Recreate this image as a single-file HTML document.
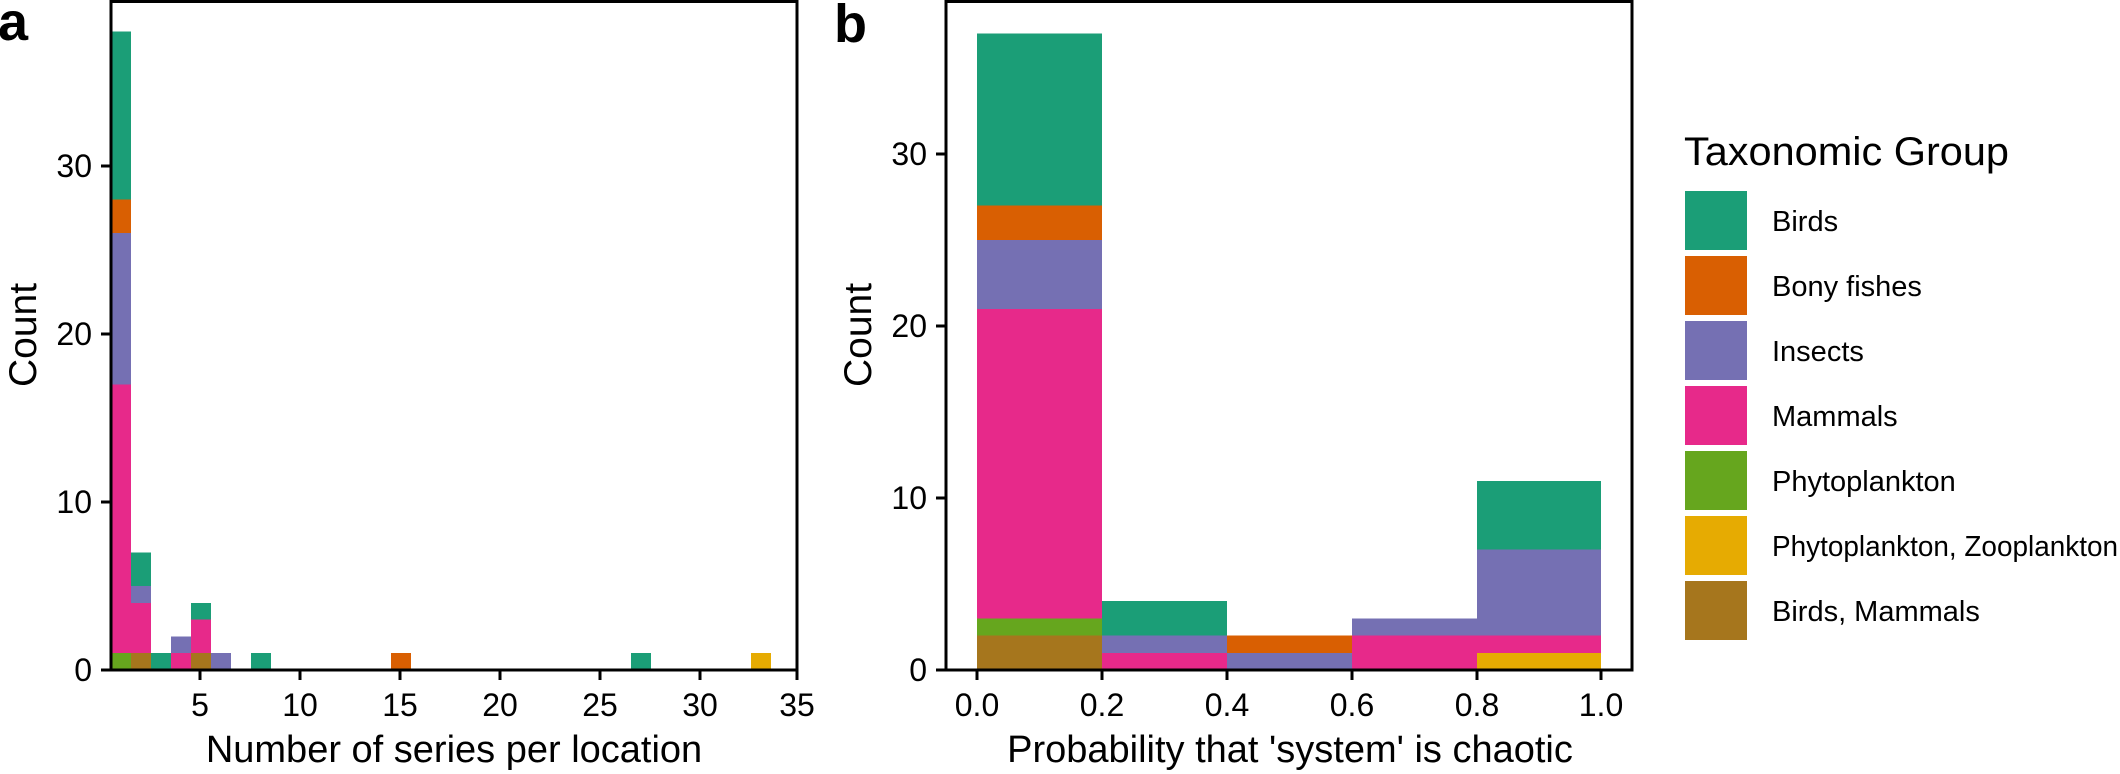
<!DOCTYPE html>
<html><head><meta charset="utf-8"><style>
html,body{margin:0;padding:0;background:#fff;}
svg{display:block;font-family:"Liberation Sans",Arial,sans-serif;}
</style></head><body>
<svg width="2120" height="774" viewBox="0 0 2120 774" xmlns="http://www.w3.org/2000/svg">
<rect width="2120" height="774" fill="#fff"/>
<g shape-rendering="crispEdges">
<rect x="112" y="653.2" width="19" height="16.8" fill="#66A61E"/>
<rect x="112" y="384.4" width="19" height="268.8" fill="#E7298A"/>
<rect x="112" y="233.2" width="19" height="151.2" fill="#7570B3"/>
<rect x="112" y="199.6" width="19" height="33.6" fill="#D95F02"/>
<rect x="112" y="31.6" width="19" height="168" fill="#1B9E77"/>
<rect x="131" y="653.2" width="20" height="16.8" fill="#A6761D"/>
<rect x="131" y="602.8" width="20" height="50.4" fill="#E7298A"/>
<rect x="131" y="586" width="20" height="16.8" fill="#7570B3"/>
<rect x="131" y="552.4" width="20" height="33.6" fill="#1B9E77"/>
<rect x="151" y="653.2" width="20" height="16.8" fill="#1B9E77"/>
<rect x="171" y="653.2" width="20" height="16.8" fill="#E7298A"/>
<rect x="171" y="636.4" width="20" height="16.8" fill="#7570B3"/>
<rect x="191" y="653.2" width="20" height="16.8" fill="#A6761D"/>
<rect x="191" y="619.6" width="20" height="33.6" fill="#E7298A"/>
<rect x="191" y="602.8" width="20" height="16.8" fill="#1B9E77"/>
<rect x="211" y="653.2" width="20" height="16.8" fill="#7570B3"/>
<rect x="251" y="653.2" width="20" height="16.8" fill="#1B9E77"/>
<rect x="391" y="653.2" width="20" height="16.8" fill="#D95F02"/>
<rect x="631" y="653.2" width="20" height="16.8" fill="#1B9E77"/>
<rect x="751" y="653.2" width="20" height="16.8" fill="#E6AB02"/>
</g>
<rect x="111" y="1.5" width="686" height="668.5" fill="none" stroke="#000" stroke-width="3"/>
<g stroke="#000" stroke-width="3">
<line x1="101" y1="670" x2="111" y2="670"/>
<line x1="101" y1="502" x2="111" y2="502"/>
<line x1="101" y1="334" x2="111" y2="334"/>
<line x1="101" y1="166" x2="111" y2="166"/>
<line x1="200" y1="670" x2="200" y2="680"/>
<line x1="300" y1="670" x2="300" y2="680"/>
<line x1="400" y1="670" x2="400" y2="680"/>
<line x1="500" y1="670" x2="500" y2="680"/>
<line x1="600" y1="670" x2="600" y2="680"/>
<line x1="700" y1="670" x2="700" y2="680"/>
<line x1="797" y1="670" x2="797" y2="680"/>
</g>
<g font-size="32" fill="#000" text-anchor="end">
<text x="92" y="681">0</text>
<text x="92" y="513">10</text>
<text x="92" y="345">20</text>
<text x="92" y="177">30</text>
</g>
<g font-size="32" fill="#000" text-anchor="middle">
<text x="200" y="716">5</text>
<text x="300" y="716">10</text>
<text x="400" y="716">15</text>
<text x="500" y="716">20</text>
<text x="600" y="716">25</text>
<text x="700" y="716">30</text>
<text x="797" y="716">35</text>
</g>
<text x="454" y="762" font-size="38" text-anchor="middle">Number of series per location</text>
<text transform="translate(36,335) rotate(-90)" font-size="39" text-anchor="middle">Count</text>
<text x="-2" y="40" font-size="54" font-weight="bold">a</text>

<g shape-rendering="crispEdges">
<rect x="977" y="635.6" width="125" height="34.4" fill="#A6761D"/>
<rect x="977" y="618.4" width="125" height="17.2" fill="#66A61E"/>
<rect x="977" y="308.8" width="125" height="309.6" fill="#E7298A"/>
<rect x="977" y="240" width="125" height="68.8" fill="#7570B3"/>
<rect x="977" y="205.6" width="125" height="34.4" fill="#D95F02"/>
<rect x="977" y="33.6" width="125" height="172" fill="#1B9E77"/>
<rect x="1102" y="652.8" width="125" height="17.2" fill="#E7298A"/>
<rect x="1102" y="635.6" width="125" height="17.2" fill="#7570B3"/>
<rect x="1102" y="601.2" width="125" height="34.4" fill="#1B9E77"/>
<rect x="1227" y="652.8" width="125" height="17.2" fill="#7570B3"/>
<rect x="1227" y="635.6" width="125" height="17.2" fill="#D95F02"/>
<rect x="1352" y="635.6" width="125" height="34.4" fill="#E7298A"/>
<rect x="1352" y="618.4" width="125" height="17.2" fill="#7570B3"/>
<rect x="1477" y="652.8" width="124" height="17.2" fill="#E6AB02"/>
<rect x="1477" y="635.6" width="124" height="17.2" fill="#E7298A"/>
<rect x="1477" y="549.6" width="124" height="86" fill="#7570B3"/>
<rect x="1477" y="480.8" width="124" height="68.8" fill="#1B9E77"/>
</g>
<rect x="946" y="1.5" width="686" height="668.5" fill="none" stroke="#000" stroke-width="3"/>
<g stroke="#000" stroke-width="3">
<line x1="936" y1="670" x2="946" y2="670"/>
<line x1="936" y1="498" x2="946" y2="498"/>
<line x1="936" y1="326" x2="946" y2="326"/>
<line x1="936" y1="154" x2="946" y2="154"/>
<line x1="977" y1="670" x2="977" y2="680"/>
<line x1="1102" y1="670" x2="1102" y2="680"/>
<line x1="1227" y1="670" x2="1227" y2="680"/>
<line x1="1352" y1="670" x2="1352" y2="680"/>
<line x1="1477" y1="670" x2="1477" y2="680"/>
<line x1="1601" y1="670" x2="1601" y2="680"/>
</g>
<g font-size="32" fill="#000" text-anchor="end">
<text x="927" y="681">0</text>
<text x="927" y="509">10</text>
<text x="927" y="337">20</text>
<text x="927" y="165">30</text>
</g>
<g font-size="32" fill="#000" text-anchor="middle">
<text x="977" y="716">0.0</text>
<text x="1102" y="716">0.2</text>
<text x="1227" y="716">0.4</text>
<text x="1352" y="716">0.6</text>
<text x="1477" y="716">0.8</text>
<text x="1601" y="716">1.0</text>
</g>
<text x="1290" y="762" font-size="38" text-anchor="middle">Probability that 'system' is chaotic</text>
<text transform="translate(871,335) rotate(-90)" font-size="39" text-anchor="middle">Count</text>
<text x="834" y="42" font-size="54" font-weight="bold">b</text>

<text x="1684" y="165" font-size="40" textLength="325" lengthAdjust="spacingAndGlyphs">Taxonomic Group</text>
<g shape-rendering="crispEdges">
<rect x="1685" y="191" width="62" height="59" fill="#1B9E77"/>
<rect x="1685" y="256" width="62" height="59" fill="#D95F02"/>
<rect x="1685" y="321" width="62" height="59" fill="#7570B3"/>
<rect x="1685" y="386" width="62" height="59" fill="#E7298A"/>
<rect x="1685" y="451" width="62" height="59" fill="#66A61E"/>
<rect x="1685" y="516" width="62" height="59" fill="#E6AB02"/>
<rect x="1685" y="581" width="62" height="59" fill="#A6761D"/>
</g>
<g font-size="29">
<text x="1772" y="231">Birds</text>
<text x="1772" y="296">Bony fishes</text>
<text x="1772" y="361">Insects</text>
<text x="1772" y="426">Mammals</text>
<text x="1772" y="491">Phytoplankton</text>
<text x="1772" y="556" textLength="346" lengthAdjust="spacingAndGlyphs">Phytoplankton, Zooplankton</text>
<text x="1772" y="621">Birds, Mammals</text>
</g>
</svg>
</body></html>
